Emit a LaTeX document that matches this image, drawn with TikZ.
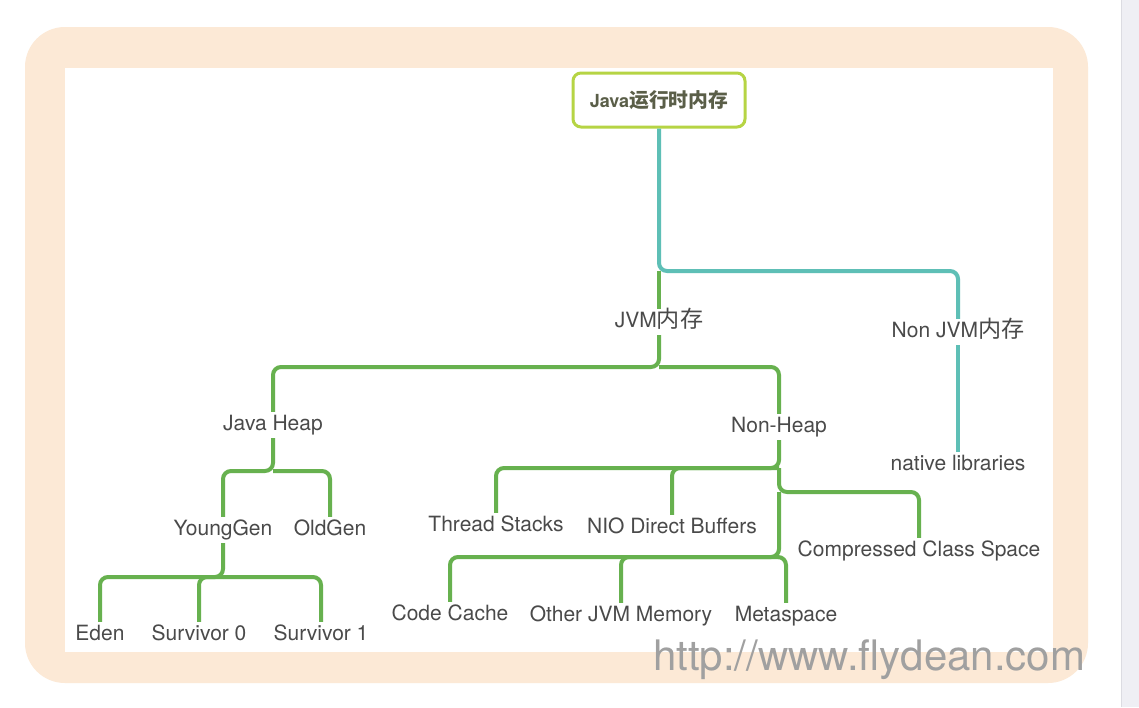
\documentclass[tikz,border=0pt]{standalone}
\usepackage{fontspec}
\setmainfont{TeX Gyre Heros}
\newfontfamily\cjk[Scale=1.1]{Noto Sans CJK SC}
\usepackage{tikz}
\definecolor{jrpeach}{HTML}{FCE9D6}
\definecolor{jrgreen}{HTML}{67B14F}
\definecolor{jrteal}{HTML}{5EBFB6}
\definecolor{jrroot}{HTML}{B6D444}
\definecolor{jrroottx}{HTML}{5A5E48}
\definecolor{jrtext}{HTML}{4A4A4A}
\definecolor{jrmark}{HTML}{A0A0A0}
\definecolor{jrstrip}{HTML}{EFEFF4}
\definecolor{jrstripln}{HTML}{DCDCE2}
\newcommand{\zh}[1]{{\cjk #1}}
\tikzset{
  lbl/.style   = {font=\fontsize{21}{25}\selectfont, text=jrtext, inner sep=4pt,
                  text height=14pt, text depth=4pt},
  rootb/.style = {draw=jrroot, line width=3pt, rounded corners=8pt, fill=white,
                  minimum width=172pt, minimum height=54pt,
                  font=\fontsize{18}{22}\selectfont\bfseries, text=jrroottx},
  grn/.style   = {draw=jrgreen, line width=4pt, rounded corners=8pt},
  tea/.style   = {draw=jrteal, line width=4pt, rounded corners=8pt},
  wmark/.style = {font=\fontsize{42}{48}\selectfont, text=jrmark, inner sep=0pt},
}

\begin{document}
\begin{tikzpicture}[x=1pt,y=-1pt]
\useasboundingbox (0,0) rectangle (1139,707);

% -- page, side strip and peach frame ----------------------------------------
\fill[white] (0,0) rectangle (1139,707);
\fill[jrstrip] (1121,0) rectangle (1139,707);
\draw[jrstripln, line width=1pt] (1121,0) -- (1121,707);
\fill[jrpeach, rounded corners=40pt] (25,27) rectangle (1088,683);
\fill[white] (65,68) rectangle (1053,652);

% -- nodes -------------------------------------------------------------------
\node[rootb] (root) at (659,100) {Java\zh{运行时内存}};

\node[lbl] (jvm)     at (659,322) {JVM\zh{内存}};
\node[lbl] (nonjvm)  at (958,332) {Non JVM\zh{内存}};
\node[lbl] (native)  at (958,465) {native libraries};

\node[lbl] (heap)    at (273,425) {Java Heap};
\node[lbl] (nonheap) at (779,427) {Non-Heap};

\node[lbl] (young)   at (223,530) {YoungGen};
\node[lbl] (old)     at (330,530) {OldGen};
\node[lbl] (eden)    at (100,635) {Eden};
\node[lbl] (surv0)   at (199,635) {Survivor 0};
\node[lbl] (surv1)   at (321,635) {Survivor 1};

\node[lbl] (threads) at (496,526) {Thread Stacks};
\node[lbl] (nio)     at (672,528) {NIO Direct Buffers};
\node[lbl] (ccs)     at (919,551) {Compressed Class Space};
\node[lbl] (codec)   at (450,615) {Code Cache};
\node[lbl] (otherm)  at (621,616) {Other JVM Memory};
\node[lbl] (metasp)  at (786,616) {Metaspace};

% -- fork points -------------------------------------------------------------
\coordinate (rootfork)  at (659,271);
\coordinate (jvmfork)   at (659,367);
\coordinate (heapfork)  at (273,471);
\coordinate (youngfork) at (223,577);
\coordinate (nhA)       at (779,468);
\coordinate (nhB)       at (779,492);
\coordinate (nhC)       at (779,557);

% -- connectors --------------------------------------------------------------
\draw[tea] (root.south) -- (rootfork) -| (nonjvm.north);
\draw[tea] (nonjvm.south) -- (native.north);
\draw[grn] (rootfork) -- (jvm.north);

\draw[grn] (jvm.south) -- (jvmfork) -| (heap.north);
\draw[grn] (jvmfork) -| (nonheap.north);

\draw[grn] (heap.south) -- (heapfork) -| (young.north);
\draw[grn] (heapfork) -| (old.north);
\draw[grn] (young.south) -- (youngfork) -| (eden.north);
\draw[grn] (youngfork) -| (surv0.north);
\draw[grn] (youngfork) -| (surv1.north);

\draw[grn] (nonheap.south) -- (nhA) -| (threads.north);
\draw[grn] (nhA) -| (nio.north);
\draw[grn] (nhA) -- (nhB) -| (ccs.north);
\draw[grn] (nhB) -- (nhC) -| (codec.north);
\draw[grn] (nhC) -| (otherm.north);
\draw[grn] (nhC) -| (metasp.north);

% -- watermark ---------------------------------------------------------------
\node[wmark, anchor=base west] (mark) at (653,670) {http://www.flydean.com};

\end{tikzpicture}
\end{document}
